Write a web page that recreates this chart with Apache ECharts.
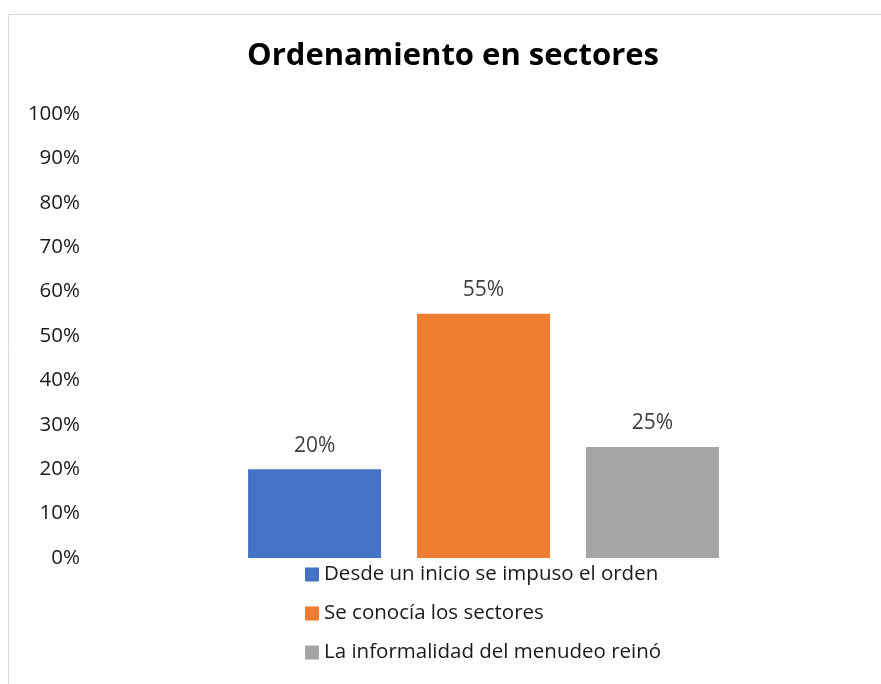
<!DOCTYPE html>
<html>
<head>
<meta charset="utf-8">
<script src="https://cdn.jsdelivr.net/npm/echarts@6/dist/echarts.min.js"></script>
<style>
html,body{margin:0;padding:0;background:#fff;}
#chart{width:881px;height:684px;}
</style>
</head>
<body>
<div id="chart"></div>
<script>
var titleText = 'Ordenamiento en sectores';
var categories = [''];
var seriesNames = ['Desde un inicio se impuso el orden', 'Se conocía los sectores', 'La informalidad del menudeo reinó'];
var seriesValues = [20, 55, 25];
var seriesColors = ['#4472C4', '#ED7D31', '#A5A5A5'];
var yTicks = {min: 0, max: 100, interval: 10};

var FONT = '"Open Sans", "Noto Sans", sans-serif';
var chart = echarts.init(document.getElementById('chart'), null, {renderer: 'canvas'});
var series = seriesNames.map(function (name, i) {
  return {
    name: name,
    type: 'bar',
    data: [seriesValues[i]],
    barWidth: 133,
    barGap: '27%',
    itemStyle: {color: seriesColors[i]},
    label: {
      show: true,
      position: 'top',
      distance: 13,
      formatter: '{c}%',
      color: '#404040',
      fontSize: 21,
      fontFamily: FONT
    }
  };
});
chart.setOption({
  animation: false,
  backgroundColor: '#fff',
  graphic: [{
    type: 'rect',
    shape: {x: 8.5, y: 14.5, width: 900, height: 700},
    style: {fill: 'none', stroke: '#d9d9d9', lineWidth: 1}
  }],
  title: {
    text: titleText,
    left: 448,
    textAlign: 'center',
    top: 36,
    textStyle: {fontSize: 31, fontWeight: 'bold', color: '#000', fontFamily: FONT}
  },
  grid: {left: 90, right: 4, top: 114, bottom: 126},
  legend: {
    orient: 'vertical',
    left: 300,
    top: 559,
    itemWidth: 14,
    itemHeight: 14,
    itemGap: 18,
    icon: 'rect',
    textStyle: {fontSize: 20.5, color: '#1a1a1a', fontFamily: FONT},
    data: seriesNames
  },
  xAxis: {
    type: 'category',
    data: categories,
    axisLine: {show: false},
    axisTick: {show: false},
    axisLabel: {show: false}
  },
  yAxis: {
    type: 'value',
    min: yTicks.min,
    max: yTicks.max,
    interval: yTicks.interval,
    axisLine: {show: false},
    axisTick: {show: false},
    splitLine: {show: false},
    axisLabel: {formatter: '{value}%', fontSize: 20.5, color: '#1a1a1a', fontFamily: FONT, margin: 10, padding: [3, 0, 0, 0]}
  },
  series: series
});
</script>
</body>
</html>
